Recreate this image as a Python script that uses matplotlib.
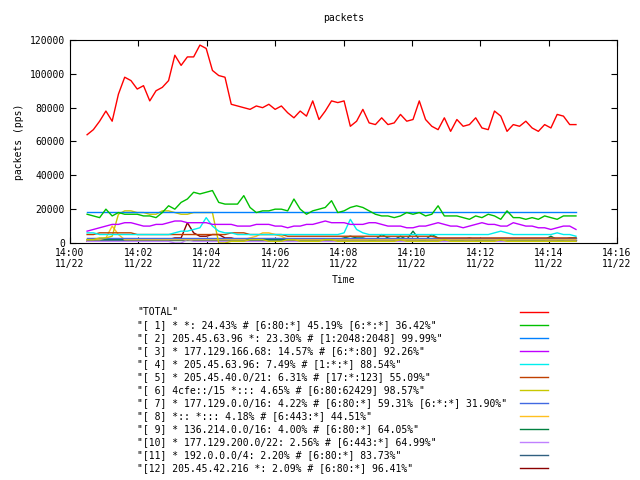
import matplotlib
matplotlib.use("Agg")
import matplotlib.pyplot as plt
import numpy as np
from matplotlib.lines import Line2D

# time in seconds after 14:00, 11 s sampling
start_s = 30
step_s = 11
total_k = [64,67,72,78,72,88,98,96,91,93,84,90,92,96,111,105,110,110,117,115,102,99,98,82,81,80,79,81,80,82,79,81,77,74,78,75,84,73,78,84,83,84,69,72,79,71,70,74,70,71,76,72,73,84,73,69,67,74,66,73,69,70,74,68,67,78,75,66,70,69,72,68,66,70,68,76,75,70,70]
s1_k = [17,16,15,20,16,18,17,17,17,16,16,15,18,22,20,24,26,30,29,30,31,24,23,23,23,28,21,18,19,19,20,20,19,26,20,17,19,20,21,25,18,19,21,22,21,19,17,16,16,15,16,18,17,18,16,17,22,16,16,16,15,14,16,15,17,16,14,19,15,15,14,15,14,16,15,14,16,16,16]
s2_k = [18.5]*79
s3_k = [7,8,9,10,11,11,12,12,11,10,10,11,11,12,13,13,12,12,12,12,11,11,11,11,10,10,10,11,11,11,10,10,9,10,10,11,11,12,13,12,12,12,11,11,11,12,12,11,10,10,10,9,9,10,10,11,12,11,10,10,9,10,11,12,11,11,10,10,12,11,10,10,9,9,8,9,10,10,8]
s4_k = [6,6,5,5,5,5,5,5,5,5,5,5,5,5,6,7,7,8,9,15,10,7,6,6,5,5,5,5,5,5,5,5,5,5,5,5,5,5,5,5,5,6,14,8,6,5,5,5,5,5,5,5,5,5,5,5,5,5,5,5,5,5,5,5,5,6,7,6,5,5,5,5,5,5,5,6,5,5,4]
s5_k = [5,5,6,6,6,6,6,6,5,5,5,5,5,5,5,5,5,5,5,5,5,5,5,6,6,6,5,5,5,5,5,5,4,4,4,4,4,4,4,4,4,4,4,4,4,4,4,4,4,4,4,4,4,4,4,4,3,3,3,3,3,3,3,3,3,3,3,3,3,3,3,3,3,3,3,3,3,3,3]
s6_k = [2,2,3,3,4,17,19,19,18,18,17,17,19,19,18,17,17,18,18,18,18,0,0,1,1,1,2,2,2,1,1,1,2,2,1,1,1,1,2,2,1,1,1,1,1,1,1,1,1,1,2,1,1,1,1,1,1,2,1,1,1,1,1,1,1,1,2,1,1,1,1,1,1,1,1,1,1,1,1]
s7_k = [3,3,3,3,3,3,3,3,3,3,3,3,3,3,3,3,3,3,3,3,3,3,3,3,3,3,3,3,3,3,3,3,3,3,3,3,3,3,3,3,3,3,3,3,3,3,3,3,3,3,3,3,3,3,3,3,3,3,3,3,3,3,3,3,3,3,3,3,3,3,3,3,3,3,3,3,3,3,3]
s8_k = [2,2,2,3,10,5,2,2,2,2,2,2,2,2,2,2,2,2,2,2,2,2,2,2,2,2,3,4,6,6,5,4,2,2,2,2,2,2,2,2,2,2,2,2,2,2,2,2,2,2,2,2,2,2,2,2,2,2,2,2,2,2,2,2,2,2,2,2,2,2,2,2,2,2,2,2,2,2,2]
s9_k = [2,2,2,2,2,2,2,2,2,2,2,2,2,2,2,2,2,2,2,2,2,2,2,2,2,2,2,2,2,2,2,2,2,2,2,2,2,2,2,2,2,3,4,3,3,2,2,5,3,2,4,2,7,2,2,5,3,2,2,2,2,3,2,2,2,2,2,2,2,2,2,2,2,2,4,2,2,3,3]
s10_k = [1,1,1,1,1,1,1,1,1,1,1,1,1,1,0,0,2,1,1,1,1,1,1,1,1,1,1,1,1,1,1,1,1,1,1,1,1,1,1,1,1,1,1,1,1,1,1,1,1,1,1,1,1,1,1,1,1,1,1,1,1,1,1,1,1,1,1,1,1,1,1,1,1,1,1,1,1,1,1]
s11_k = [2,2,2,2,2,2,2,2,2,2,2,2,2,2,2,2,2,2,2,2,2,2,2,2,2,2,2,2,2,2,2,2,2,2,2,2,2,2,2,2,2,2,2,2,2,2,2,2,2,2,2,2,2,2,2,2,2,2,2,2,2,2,2,2,2,2,2,2,2,2,2,2,2,2,2,2,2,2,2]
s12_k = [1,1,1,1,1,1,1,1,1,1,1,2,2,2,3,3,12,6,4,4,5,5,3,3,2,2,2,2,1,1,1,1,1,1,1,1,1,1,1,1,1,1,1,1,1,1,1,1,1,1,1,1,1,1,1,1,1,1,1,1,1,1,1,1,1,1,1,1,1,1,1,1,1,1,1,1,1,1,1]

labels = ['"TOTAL"',
 '"[ 1] * *: 24.43% # [6:80:*] 45.19% [6:*:*] 36.42%"',
 '"[ 2] 205.45.63.96 *: 23.30% # [1:2048:2048] 99.99%"',
 '"[ 3] * 177.129.166.68: 14.57% # [6:*:80] 92.26%"',
 '"[ 4] * 205.45.63.96: 7.49% # [1:*:*] 88.54%"',
 '"[ 5] * 205.45.40.0/21: 6.31% # [17:*:123] 55.09%"',
 '"[ 6] 4cfe::/15 *::: 4.65% # [6:80:62429] 98.57%"',
 '"[ 7] * 177.129.0.0/16: 4.22% # [6:80:*] 59.31% [6:*:*] 31.90%"',
 '"[ 8] *:: *::: 4.18% # [6:443:*] 44.51%"',
 '"[ 9] * 136.214.0.0/16: 4.00% # [6:80:*] 64.05%"',
 '"[10] * 177.129.200.0/22: 2.56% # [6:443:*] 64.99%"',
 '"[11] * 192.0.0.0/4: 2.20% # [6:80:*] 83.73%"',
 '"[12] 205.45.42.216 *: 2.09% # [6:80:*] 96.41%"']
colors = ['#ff0000','#00c000','#0080ff','#c000ff','#00eeee','#c04000','#c8c800',
          '#4169e1','#ffc020','#008040','#c080ff','#306080','#8b0000']
series = [total_k,s1_k,s2_k,s3_k,s4_k,s5_k,s6_k,s7_k,s8_k,s9_k,s10_k,s11_k,s12_k]
xticks = ["14:00\n11/22","14:02\n11/22","14:04\n11/22","14:06\n11/22","14:08\n11/22",
          "14:10\n11/22","14:12\n11/22","14:14\n11/22","14:16\n11/22"]

plt.rcParams['font.family'] = 'DejaVu Sans Mono'
fig = plt.figure(figsize=(6.4,4.8), dpi=100)
ax = fig.add_axes([70/640, 1-243/480, (617-70)/640, (243-40)/480])
for s, c in zip(series[::-1], colors[::-1]):
    n = len(s)
    t = start_s + step_s*np.arange(n)
    ax.plot(t, np.array(s)*1000, color=c, lw=1)
ax.set_xlim(0, 960)
ax.set_ylim(0, 120000)
ax.set_xticks(np.arange(0, 961, 120))
ax.set_xticklabels(xticks, fontsize=7)
ax.set_yticks(np.arange(0, 120001, 20000))
ax.tick_params(labelsize=7, direction='in', top=True, right=True, length=4)
for sp in ax.spines.values():
    sp.set_linewidth(0.8)
ax.set_title("packets", fontsize=7, pad=14)
ax.set_ylabel("packets (pps)", fontsize=7)
ax.set_xlabel("Time", fontsize=7)
for i, (lab, c) in enumerate(zip(labels, colors)):
    y = 1 - (312 + 13*i)/480
    fig.text(137/640, y, lab, fontsize=7, va='center', ha='left')
    fig.add_artist(Line2D([520/640, 548/640], [y, y], color=c, lw=1, transform=fig.transFigure))
fig.savefig("out.png", dpi=100)
